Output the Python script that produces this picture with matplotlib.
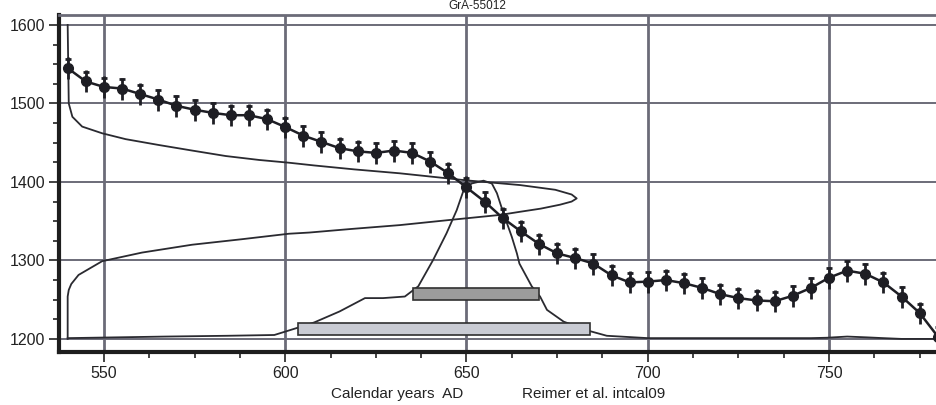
import numpy as np
import matplotlib
matplotlib.use('Agg')
import matplotlib.pyplot as plt
from matplotlib.patches import Rectangle
from matplotlib.ticker import MultipleLocator

plt.rcParams['font.family'] = ['Liberation Sans', 'DejaVu Sans']

# calibration curve (intcal09), every 5 years
cal_years = [540, 545, 550, 555, 560, 565, 570, 575, 580, 585, 590, 595, 600,
             605, 610, 615, 620, 625, 630, 635, 640, 645, 650, 655, 660, 665,
             670, 675, 680, 685, 690, 695, 700, 705, 710, 715, 720, 725, 730,
             735, 740, 745, 750, 755, 760, 765, 770, 775, 780]
cal_bp = [1545, 1528, 1521, 1519, 1512, 1505, 1497, 1492, 1488, 1485, 1485, 1480, 1470,
          1459, 1451, 1443, 1439, 1437, 1440, 1437, 1426, 1411, 1393, 1375, 1354, 1337,
          1321, 1309, 1303, 1296, 1281, 1272, 1273, 1275, 1271, 1265, 1257, 1252, 1249,
          1248, 1255, 1265, 1278, 1287, 1283, 1272, 1254, 1233, 1203]
cal_err = 14

# radiocarbon date distribution (drawn along the y axis): BP value -> x position
c14_bp = [1600, 1500, 1483, 1470.5, 1462, 1454.5, 1447, 1440, 1433, 1428, 1424.5,
          1421, 1416, 1411, 1402, 1396, 1390, 1384, 1379, 1375, 1371, 1366, 1362,
          1358, 1351.6, 1345, 1340, 1335.5, 1334, 1327, 1320, 1310, 1299, 1281.5,
          1270, 1262.4, 1254, 1200]
c14_x = [540, 540.3, 541.3, 544, 549.5, 556, 565.2, 574.3, 583.6, 592.8, 601,
         608, 619, 631.6, 650, 664.8, 674.5, 679, 680.4, 679, 675.8, 670.5, 664.8,
         659.3, 645.5, 631.6, 618, 606.6, 601, 588, 574.3, 560.5, 549.5, 543,
         541, 540.3, 540, 540]

# calibrated date distribution (drawn along the x axis)
post_years = [540, 567, 584, 597, 603, 608, 615, 622, 627, 633, 636.7, 640.8,
              644.5, 647.3, 649.1, 651.4, 654.7, 657, 658.4, 660.2, 662.5, 663.9,
              664.6, 668, 670.3, 672.2, 676.8, 683.2, 688.7, 700, 745, 749.4, 755,
              760.4, 765, 770, 780]
post_bp = [1201, 1203, 1204, 1205, 1213.6, 1221, 1235, 1252, 1252, 1254, 1267, 1300.6,
           1334.6, 1364, 1388, 1398, 1401.6, 1398, 1385.6, 1360, 1330, 1309,
           1296, 1267, 1254, 1237, 1222, 1211, 1204, 1201, 1201, 1201.5, 1203,
           1202, 1201, 1200, 1200]

# highest probability ranges
range_1s = (635.3, 670.1)
range_2s = (603.4, 684.1)

title = 'GrA-55012'

fig = plt.figure(figsize=(9.36, 4.05), dpi=100)
ax = fig.add_axes([0.063, 0.131, 0.937, 0.832])

grid_col = '#6b6b78'
for x in [550, 600, 650, 700, 750]:
    ax.axvline(x, color=grid_col, lw=2.0, zorder=1)
for y in [1200, 1300, 1400, 1500, 1600]:
    ax.axhline(y, color=grid_col, lw=1.4, zorder=1)

ax.plot(c14_x, c14_bp, color='#2a2a30', lw=1.3, zorder=3)
ax.plot(post_years, post_bp, color='#2a2a30', lw=1.3, zorder=3)

ax.add_patch(Rectangle((range_2s[0], 1205), range_2s[1] - range_2s[0], 15,
                       facecolor='#c9cbd3', edgecolor='#303030', lw=1.2, zorder=4))
ax.add_patch(Rectangle((range_1s[0], 1250), range_1s[1] - range_1s[0], 15,
                       facecolor='#9c9c9c', edgecolor='#303030', lw=1.2, zorder=4))

yrs = np.array(cal_years)
bp = np.array(cal_bp)
ax.errorbar(yrs, bp, yerr=cal_err, fmt='none', ecolor='#1e1e24', elinewidth=2.0, zorder=5)
ax.plot(yrs, bp + cal_err - 2, ls='none', marker='_', ms=5, mew=2, color='#1e1e24', zorder=5)
ax.plot(yrs, bp, color='#1e1e24', lw=1.8, marker='o', ms=7, zorder=6)

ax.set_xlim(537.6, 779.5)
ax.set_ylim(1183.4, 1612.7)
ax.set_xticks([550, 600, 650, 700, 750])
ax.set_yticks([1200, 1300, 1400, 1500, 1600])
ax.xaxis.set_minor_locator(MultipleLocator(12.5))
ax.yaxis.set_minor_locator(MultipleLocator(25))
ax.tick_params(axis='both', which='major', direction='out', length=7, width=1.2,
               labelsize=11.5, colors='#222222', pad=3)
ax.tick_params(axis='both', which='minor', direction='out', length=4, width=1.2,
               colors='#222222')

for side in ['left', 'bottom']:
    ax.spines[side].set_linewidth(3)
    ax.spines[side].set_color('#1e1e1e')
ax.spines['top'].set_linewidth(2)
ax.spines['top'].set_color(grid_col)
ax.spines['right'].set_visible(False)

fig.text(0.354, 0.018, 'Calendar years  AD', fontsize=11, color='#222222')
fig.text(0.558, 0.018, 'Reimer et al. intcal09', fontsize=11, color='#222222')
fig.text(0.51, 0.999, title, fontsize=8.5, color='#222222', ha='center', va='top')

fig.savefig('out.png', dpi=100)
